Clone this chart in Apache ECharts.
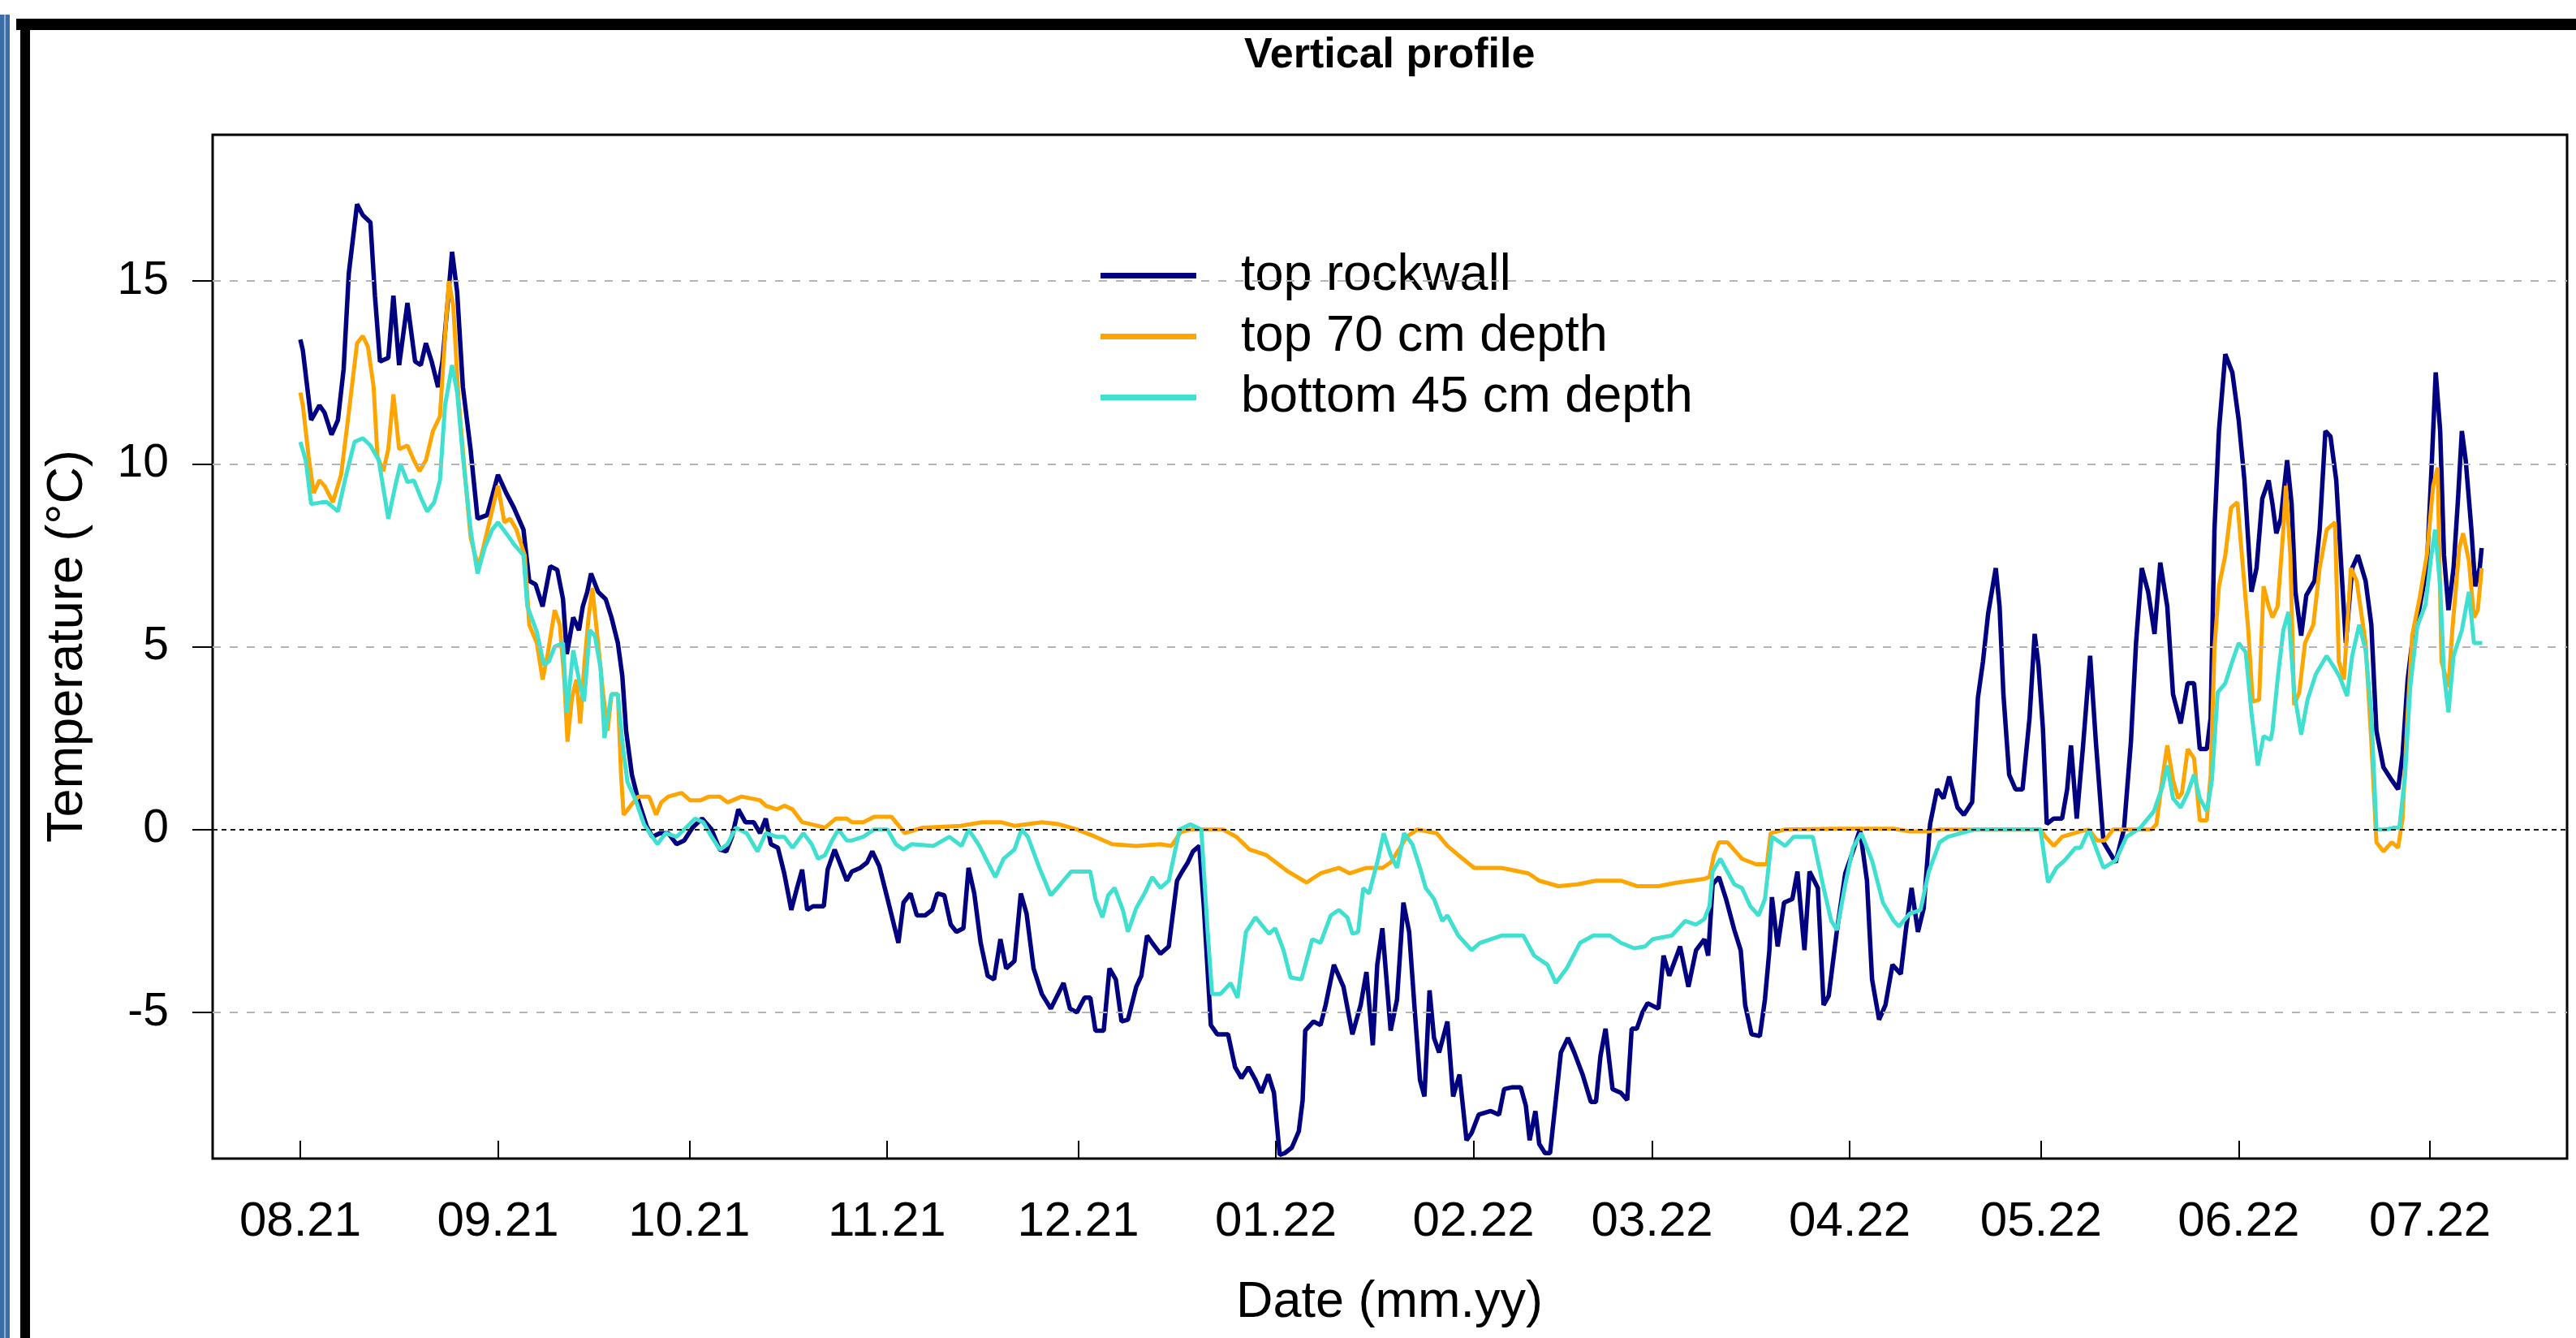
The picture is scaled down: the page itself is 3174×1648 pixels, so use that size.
<!DOCTYPE html>
<html>
<head>
<meta charset="utf-8">
<title>Vertical profile</title>
<script src="https://cdn.jsdelivr.net/npm/echarts@6/dist/echarts.min.js"></script>
<style>
	html, body { margin: 0; padding: 0; background: #fff; }
	#chart { width: 3174px; height: 1648px; }
</style>
</head>
<body>
<div id="chart"></div>
<script>
// x = days since 01.08.2021
var monthDays = [0, 31, 61, 92, 122, 153, 184, 212, 243, 273, 304, 334];
var monthLabels = ['08.21', '09.21', '10.21', '11.21', '12.21', '01.22', '02.22', '03.22', '04.22', '05.22', '06.22', '07.22'];
var tempTicks = [-5, 0, 5, 10, 15];

var rockwall = [
	[0,13.4],[0.4,13.1],[1.7,11.2],[3,11.6],[3.8,11.4],[4.9,10.8],[5.9,11.2],[6.8,12.6],[7.6,15.2],[8.9,17.1],
	[9.8,16.8],[11,16.6],[11.7,14.6],[12.5,12.8],[13.8,12.9],[14.6,14.6],[15.5,12.7],[16.8,14.4],[18,12.8],[18.9,12.7],
	[19.7,13.3],[20.6,12.8],[21.6,12.1],[22.3,12.8],[23.8,15.8],[24.6,14.7],[25.5,12.1],[26.7,10.4],[27.8,8.5],[29.3,8.6],
	[31,9.7],[32.3,9.2],[33.5,8.8],[35,8.2],[35.9,6.8],[36.9,6.7],[38,6.1],[39.2,7.2],[40.3,7.1],[41.2,6.3],[41.8,4.8],
	[42.1,5.1],[42.8,5.8],[43.7,5.45],[44.3,6.1],[45,6.5],[45.6,7.0],[46.7,6.5],[47.9,6.3],[48.8,5.8],[49.8,5.1],[50.5,4.2],
	[51.1,2.7],[52,1.5],[53,0.8],[54.3,0.1],[55.2,-0.2],[56.4,-0.1],[57.7,-0.1],[59,-0.4],[60.2,-0.3],[61.5,0.05],
	[63,0.3],[64.5,0],[65.8,-0.55],[66.8,-0.6],[67.7,-0.2],[68.7,0.55],[69.8,0.2],[71.1,0.2],[72.1,-0.1],[73,0.3],
	[73.8,-0.4],[74.9,-0.5],[75.9,-1.2],[77,-2.2],[77.9,-1.6],[78.7,-1.1],[79.5,-2.2],[80.4,-2.1],[81.5,-2.1],[82.1,-2.1],
	[82.7,-1.1],[83.8,-0.55],[85.7,-1.4],[86.5,-1.15],[87.8,-1.05],[88.9,-0.9],[89.7,-0.6],[90.8,-1.0],[92.1,-1.9],[93.8,-3.1],
	[94.6,-2.0],[95.7,-1.75],[96.7,-2.35],[98,-2.35],[99.1,-2.2],[99.9,-1.75],[101,-1.8],[102,-2.6],[102.9,-2.8],[104,-2.7],
	[104.8,-1.05],[105.7,-1.75],[106.7,-3.1],[107.8,-4.0],[108.8,-4.1],[109.8,-3.0],[110.7,-3.8],[112,-3.6],[113,-1.75],[113.9,-2.3],
	[115,-3.8],[116.3,-4.5],[117.7,-4.9],[119.7,-4.2],[120.7,-4.9],[121.8,-5.0],[123,-4.6],[123.9,-4.6],[124.7,-5.5],[126,-5.5],
	[126.9,-3.8],[127.9,-4.1],[128.8,-5.25],[129.8,-5.2],[131.1,-4.3],[131.9,-4.0],[132.8,-2.9],[133.6,-3.1],[134.9,-3.4],[136.2,-3.2],
	[137.5,-1.4],[138.3,-1.15],[139.2,-0.9],[140,-0.6],[141,-0.45],[141.7,-2.1],[142.8,-5.35],[143.8,-5.6],[145.5,-5.6],[146.6,-6.5],
	[147.6,-6.8],[148.7,-6.5],[149.8,-6.85],[150.7,-7.2],[151.8,-6.7],[152.7,-7.2],[153.6,-8.9],[154.4,-8.85],[155.5,-8.7],[156.6,-8.25],
	[157.2,-7.4],[157.6,-5.5],[158.9,-5.25],[160,-5.35],[160.8,-4.8],[162.1,-3.7],[163.6,-4.3],[165,-5.6],[166.3,-4.8],[167.2,-3.9],
	[168.2,-5.9],[168.9,-3.7],[169.7,-2.7],[171,-5.5],[172,-4.65],[173,-2.0],[173.9,-2.8],[174.8,-5.0],[175.6,-6.85],[176.3,-7.3],
	[177.1,-4.4],[177.8,-5.7],[178.6,-6.1],[179.9,-5.25],[180.8,-7.3],[181.8,-6.7],[182.9,-8.5],[183.7,-8.3],[184.8,-7.8],[186.7,-7.7],
	[188,-7.8],[188.8,-7.1],[190.1,-7.05],[191.4,-7.05],[192.2,-7.55],[192.8,-8.5],[193.7,-7.7],[194.3,-8.6],[195.2,-8.85],[196,-8.85],
	[196.9,-7.4],[197.7,-6.1],[198.8,-5.7],[199.8,-6.1],[201.1,-6.7],[202.4,-7.45],[203.2,-7.45],[203.9,-6.2],[204.7,-5.45],[205.8,-7.1],
	[207.1,-7.2],[208.1,-7.4],[208.8,-5.45],[209.6,-5.45],[210.5,-5.0],[211.3,-4.75],[213,-4.9],[213.8,-3.45],[214.7,-4.0],[216.4,-3.2],
	[217.7,-4.3],[218.9,-3.3],[220.2,-3.0],[220.8,-3.45],[221.5,-1.5],[222.5,-1.3],[223.6,-1.9],[224.9,-2.75],[225.9,-3.3],[226.6,-4.8],
	[227.6,-5.6],[228.9,-5.65],[229.7,-4.65],[230.4,-3.3],[230.8,-1.85],[231.7,-3.2],[232.7,-2.0],[234,-1.9],[234.8,-1.15],[235.9,-3.3],
	[236.7,-1.15],[238,-1.6],[238.9,-4.8],[239.7,-4.55],[241,-2.75],[242.3,-1.2],[243.5,-0.6],[244.6,0],[245.7,-1.4],[246.5,-4.1],
	[247.6,-5.2],[248.6,-4.8],[249.7,-3.7],[251,-3.95],[251.8,-2.75],[252.7,-1.6],[253.7,-2.8],[254.6,-2.15],[255.6,0.15],[256.7,1.1],
	[257.7,0.85],[258.6,1.45],[259.9,0.6],[260.9,0.4],[262.2,0.75],[262.6,2.0],[263.1,3.6],[263.9,4.6],[264.7,5.9],[265.9,7.15],
	[266.5,6.1],[267.1,3.7],[268,1.5],[269,1.1],[270.1,1.1],[271.2,3.05],[272,5.35],[272.6,4.5],[273.3,2.75],[273.9,0.15],
	[275,0.3],[276.3,0.3],[277.1,1.1],[277.7,2.3],[278.6,0.3],[279.6,2.3],[280.7,4.75],[281.6,2.4],[282.8,-0.35],[284.7,-0.9],
	[286,0],[287.1,2.4],[287.9,5.1],[288.8,7.15],[289.8,6.5],[290.8,5.35],[291.7,7.3],[292.8,6.1],[293.7,3.7],[294.9,2.9],
	[296,4.0],[297,4.0],[297.9,2.2],[299,2.2],[299.6,3.05],[300.2,8.2],[300.9,10.9],[301.9,13.0],[303,12.5],[304,11.2],
	[304.9,9.55],[306,6.5],[306.8,7.15],[307.7,9.05],[308.7,9.55],[309.3,8.9],[309.9,8.1],[310.6,8.5],[311.6,10.1],[312.3,8.9],
	[312.9,6.5],[313.8,5.3],[314.6,6.4],[315.9,6.8],[316.7,8.2],[317.6,10.9],[318.4,10.75],[319.3,9.55],[320.1,7.15],[320.8,5.1],
	[321.8,7.15],[322.7,7.5],[323.9,6.8],[324.8,5.6],[325.6,2.7],[326.7,1.7],[328,1.35],[329,1.1],[329.7,2.05],[330.5,4.1],
	[331.2,5.1],[332.4,6.1],[333.5,7.15],[334.3,10.1],[334.9,12.5],[335.6,10.9],[336.2,7.5],[336.9,6.0],[337.7,7.15],[338.4,9.05],
	[339,10.9],[339.6,10.1],[340.5,8.2],[341.1,6.65],[341.8,7.15],[342.1,7.7]
];

var depth70 = [
	[0,11.95],[0.4,11.6],[1.3,10.2],[2.1,9.2],[3,9.55],[3.8,9.4],[5.1,8.95],[6.4,9.7],[7.6,11.4],[8.9,13.3],
	[9.8,13.5],[10.6,13.2],[11.5,12.1],[12.1,10.2],[13,9.8],[13.8,10.4],[14.6,11.9],[15.5,10.4],[16.8,10.5],[17.8,10.1],
	[18.7,9.8],[19.7,10.1],[20.8,10.9],[21.9,11.3],[22.7,13.5],[23.3,15.0],[24,14.3],[24.8,11.8],[25.9,9.55],[26.7,8.0],
	[27.4,7.5],[28,7.2],[29.1,8.0],[31,9.4],[32,8.4],[32.9,8.5],[33.9,8.2],[35.2,7.5],[35.9,5.6],[37.1,5.1],
	[38,4.1],[38.8,4.8],[39.9,6.0],[40.7,5.6],[41.4,4.1],[41.9,2.4],[42.6,3.6],[43.3,4.1],[43.9,2.9],[44.5,4.4],
	[45.2,5.8],[45.8,6.6],[46.7,5.1],[47.5,3.7],[48.2,2.7],[48.8,3.7],[49.8,3.7],[50.3,1.5],[50.7,0.4],[51.8,0.65],
	[53,0.9],[54.7,0.9],[55.8,0.4],[56.6,0.74],[57.7,0.9],[59.8,1.0],[61.1,0.8],[62.8,0.8],[64.1,0.9],[65.8,0.9],
	[67,0.74],[69.2,0.9],[72.1,0.8],[73,0.65],[74.7,0.55],[75.9,0.65],[77.2,0.55],[78.7,0.2],[80.2,0.14],[82.3,0.05],
	[84,0.3],[85.7,0.3],[86.5,0.2],[88.3,0.2],[90,0.35],[92.7,0.35],[94.8,-0.1],[97.6,0.05],[103.5,0.1],[106.9,0.2],
	[109.9,0.2],[112,0.1],[116.3,0.2],[118.8,0.15],[121.8,0],[124.7,-0.2],[127.3,-0.4],[131.1,-0.45],[134.9,-0.4],[136.6,-0.45],
	[138.1,-0.07],[139.6,0],[144.7,0],[146.8,-0.2],[148.9,-0.55],[151.5,-0.7],[154.9,-1.15],[157.8,-1.45],[160,-1.2],[162.9,-1.05],
	[164.6,-1.2],[167.2,-1.05],[169.7,-1.05],[171,-0.9],[172.3,-0.55],[173.5,-0.2],[175.2,0],[178.2,-0.1],[179.9,-0.45],[181.6,-0.7],
	[184.1,-1.05],[188.4,-1.05],[192.6,-1.2],[194.3,-1.4],[197.3,-1.55],[200.3,-1.5],[203.2,-1.4],[207.1,-1.4],[209.6,-1.55],[213,-1.55],
	[216,-1.45],[218.1,-1.4],[220.2,-1.35],[221,-1.3],[221.7,-0.7],[222.5,-0.35],[223.8,-0.35],[226.1,-0.8],[228.3,-0.95],[230,-0.95],
	[230.6,-0.1],[232.9,0],[241.4,0.02],[249.9,0.02],[252.4,-0.05],[255.4,-0.05],[257.1,0],[264.7,0],[272.9,0],[273.7,-0.2],
	[275,-0.45],[276.3,-0.2],[279.2,-0.05],[280.5,0],[281.8,-0.3],[283,-0.3],[284.3,0],[290.3,0],[291.1,0.14],[292,1.35],
	[292.8,2.3],[293.7,1.35],[294.5,0.85],[295.1,1.0],[296,2.2],[297,1.95],[297.9,0.25],[299,0.25],[299.6,1.5],[300.2,4.95],
	[300.9,6.65],[301.9,7.5],[302.8,8.8],[303.8,8.95],[304.5,7.5],[305.5,5.45],[306.2,3.5],[307.2,3.55],[307.9,6.65],[308.7,6.1],
	[309.3,5.8],[310.1,6.1],[311,8.2],[311.4,9.4],[312.1,7.5],[312.7,3.4],[313.5,3.75],[314.4,5.1],[315.7,5.6],[316.7,7.15],
	[317.8,8.2],[319.1,8.4],[319.7,4.6],[320.5,4.1],[321.6,7.15],[322.5,6.8],[323.9,5.1],[324.8,2.4],[325.6,-0.35],[326.7,-0.6],
	[328,-0.35],[329,-0.5],[329.7,0.3],[330.5,3.2],[331.2,5.3],[332.4,6.35],[333.5,7.5],[334.5,9.4],[335.2,9.9],[335.8,4.6],
	[336.9,3.9],[337.5,5.45],[338.6,7.7],[339.2,8.1],[340.1,7.35],[340.9,5.8],[341.5,6.0],[342.1,7.15]
];

var depth45 = [
	[0,10.6],[0.85,10.1],[1.7,8.9],[3.4,8.95],[4.2,8.95],[5.9,8.7],[7.2,9.7],[8.5,10.6],[9.8,10.7],[11,10.5],
	[12.3,10.1],[13.8,8.5],[14.9,9.4],[15.7,10.0],[16.8,9.5],[17.8,9.55],[19.1,9.0],[19.9,8.7],[21,8.95],[21.9,9.55],
	[22.7,11.6],[23.8,12.7],[24.6,11.95],[25.5,10.2],[26.7,8.2],[27.8,7.0],[28.9,7.7],[30.1,8.2],[31,8.4],[32.3,8.1],
	[33.5,7.8],[35,7.5],[35.6,6.1],[37.1,5.4],[38.2,4.5],[39,4.6],[39.9,5.0],[41.2,5.1],[41.8,3.2],[42.1,3.7],
	[42.8,4.9],[43.7,4.1],[44.5,3.5],[45.4,5.45],[46.2,5.3],[47.1,4.4],[47.7,2.5],[48.8,3.7],[49.8,3.7],[50.5,2.4],
	[51.3,1.3],[52.6,0.8],[53.9,0.14],[55.2,-0.2],[56,-0.4],[57.3,-0.1],[59,-0.2],[60.2,0],[61.9,0.3],[63.2,0.2],
	[64.5,-0.2],[65.8,-0.55],[67,-0.4],[68.3,0.05],[70,-0.1],[71.7,-0.6],[73,-0.1],[74.7,-0.2],[75.9,-0.2],[77.2,-0.5],
	[78.9,-0.1],[80.2,-0.4],[81.2,-0.8],[82.3,-0.7],[83.4,-0.3],[84.4,0],[85.7,-0.3],[86.5,-0.3],[88.3,-0.2],[90,0],
	[92.1,0],[93.4,-0.4],[94.6,-0.55],[95.9,-0.4],[99.3,-0.45],[101.8,-0.2],[103.7,-0.45],[104.8,0],[106.5,-0.45],[107.8,-0.9],
	[109,-1.3],[110.3,-0.8],[112,-0.55],[113.1,0],[114.1,-0.2],[115.8,-1.0],[117.7,-1.8],[119.2,-1.5],[120.9,-1.15],[122.6,-1.15],
	[123.9,-1.15],[124.7,-1.9],[125.8,-2.4],[126.7,-1.8],[127.7,-1.6],[129,-2.2],[129.8,-2.8],[131.1,-2.15],[132.4,-1.75],[133.6,-1.3],
	[134.9,-1.6],[136.2,-1.4],[137.9,0],[139.6,0.14],[141.3,0],[142.3,-2.8],[143,-4.5],[144.3,-4.5],[145.9,-4.2],[147,-4.6],
	[148.3,-2.8],[149.8,-2.4],[151.9,-2.85],[152.9,-2.7],[154.2,-3.3],[155.3,-4.05],[157,-4.1],[158.7,-3.0],[160,-3.1],[161.6,-2.35],
	[162.9,-2.2],[164.2,-2.4],[165,-2.85],[165.9,-2.8],[166.7,-1.6],[167.6,-1.75],[168.9,-0.9],[169.9,-0.1],[171,-0.7],[172,-1.05],
	[173.1,-0.1],[174.4,-0.4],[175.6,-1.05],[176.5,-1.6],[177.8,-1.9],[179.1,-2.5],[179.9,-2.35],[181.6,-2.9],[183.7,-3.3],[185,-3.1],
	[188.4,-2.9],[191.8,-2.9],[193.5,-3.45],[195.6,-3.7],[196.9,-4.2],[198.6,-3.8],[200.7,-3.1],[202.8,-2.9],[205.4,-2.9],[207.1,-3.1],
	[209.2,-3.25],[210.9,-3.2],[212.1,-3.0],[215.1,-2.9],[217.2,-2.5],[218.9,-2.6],[220.2,-2.45],[221,-2.1],[221.5,-1.15],[222.7,-0.8],
	[224.9,-1.5],[226.1,-1.6],[227.4,-2.1],[228.7,-2.35],[229.7,-1.9],[230.8,-0.2],[232.9,-0.45],[234.2,-0.2],[237.2,-0.2],[238.9,-1.6],
	[240.1,-2.5],[241,-2.75],[242.3,-1.5],[243.5,-0.5],[244.8,-0.1],[246.5,-0.85],[248.2,-2.0],[249.9,-2.5],[250.7,-2.65],[252.4,-2.3],
	[254.1,-2.2],[255.4,-1.15],[257.1,-0.35],[258.4,-0.2],[262.6,0],[264.7,0],[272.9,0],[274.1,-1.45],[275.4,-1.05],[276.7,-0.85],
	[278.4,-0.5],[279.2,-0.5],[280.5,0],[281.6,-0.5],[282.8,-1.05],[284.7,-0.85],[286.4,-0.2],[288.6,0.05],[290.7,0.5],[292,1.15],
	[292.8,1.75],[293.7,0.85],[294.9,0.6],[296,1.0],[297,1.5],[297.9,0.85],[299,0.5],[299.8,1.35],[300.7,3.75],[301.9,4.0],
	[303,4.6],[304,5.1],[305.1,4.85],[306,3.2],[307,1.75],[307.9,2.55],[309,2.45],[309.3,2.7],[310.1,4.1],[311,5.45],
	[311.8,5.95],[312.7,3.75],[313.8,2.6],[314.8,3.55],[316.1,4.25],[317.8,4.75],[319.1,4.4],[319.9,4.15],[321,3.65],[321.8,4.75],
	[322.9,5.6],[323.9,4.9],[324.8,3.2],[325.6,0],[327.1,0],[328.4,0.05],[329.2,0.05],[330.1,1.5],[330.9,3.9],[332,5.55],
	[333.3,6.15],[334.1,7.35],[334.8,8.2],[335.6,6.65],[336.2,4.25],[336.9,3.2],[337.7,4.75],[339,5.45],[340.1,6.5],[340.9,5.1],
	[342.2,5.1]
];

var FONT = '"Liberation Sans", Arial, sans-serif';

function showProfileChart(id) {
	var profileChart = echarts.init(document.getElementById(id));
	var gridLine = { color : '#b4b4b4', width : 2, type : [10, 11] };
	var profileOption = {
		animation : false,
		backgroundColor : '#fff',
		title : {
			text : 'Vertical profile',
			left : 1528,
			top : 38,
			textStyle : {
				color : '#000',
				fontSize : 52,
				fontWeight : 'bold',
				fontFamily : FONT
			}
		},
		legend : {
			data : [ 'top rockwall', 'top 70 cm depth', 'bottom 45 cm depth' ],
			orient : 'vertical',
			left : 1296,
			top : 300,
			padding : [ 8, 58, 8, 60 ],
			backgroundColor : '#fff',
			icon : 'rect',
			itemWidth : 118,
			itemHeight : 7,
			itemGap : 12,
			textStyle : {
				color : '#000',
				fontSize : 63,
				lineHeight : 63,
				fontFamily : FONT,
				padding : [ 0, 0, 0, 50 ]
			}
		},
		grid : {
			left : 262,
			top : 166,
			width : 2901,
			height : 1261,
			show : true,
			borderColor : '#000',
			borderWidth : 3
		},
		xAxis : {
			type : 'value',
			min : -13.75,
			max : 355.5,
			axisLine : { show : false, onZero : false },
			splitLine : { show : false },
			axisTick : {
				show : true,
				inside : true,
				length : 22,
				customValues : monthDays,
				lineStyle : { color : '#000', width : 2 }
			},
			axisLabel : {
				customValues : monthDays,
				margin : 48,
				color : '#000',
				fontSize : 60,
				fontFamily : FONT,
				formatter : function (v) {
					var i = monthDays.indexOf(v);
					return i < 0 ? '' : monthLabels[i];
				}
			}
		},
		yAxis : {
			type : 'value',
			min : -9,
			max : 19,
			axisLine : { show : false, onZero : false },
			splitLine : { show : false },
			axisTick : {
				show : true,
				length : 25,
				customValues : tempTicks,
				lineStyle : { color : '#000', width : 2 }
			},
			axisLabel : {
				customValues : tempTicks,
				margin : 54,
				color : '#000',
				fontSize : 57,
				fontFamily : FONT
			}
		},
		graphic : [
			{ type : 'rect', shape : { x : 0, y : 18, width : 12, height : 1630 }, style : { fill : '#3a6ea5' } },
			{ type : 'rect', shape : { x : 5, y : 18, width : 2, height : 1630 }, style : { fill : '#8fb0d2' } },
			{ type : 'rect', shape : { x : 20, y : 23, width : 3154, height : 14 }, style : { fill : '#000' } },
			{ type : 'rect', shape : { x : 25, y : 23, width : 12, height : 1625 }, style : { fill : '#000' } },
			{
				type : 'text', x : 1712, y : 1605,
				style : { text : 'Date (mm.yy)', fill : '#000', font : '63px ' + FONT, align : 'center', verticalAlign : 'middle' }
			},
			{
				type : 'text', x : 84, y : 796, rotation : Math.PI / 2,
				style : { text : 'Temperature (°C)', fill : '#000', font : '63px ' + FONT, align : 'center', verticalAlign : 'middle' }
			}
		],
		series : [ {
			// reference lines only
			name : 'grid',
			type : 'line',
			data : [],
			silent : true,
			markLine : {
				silent : true,
				symbol : [ 'none', 'none' ],
				label : { show : false },
				animation : false,
				data : [
					{ yAxis : 15, lineStyle : gridLine },
					{ yAxis : 10, lineStyle : gridLine },
					{ yAxis : 5, lineStyle : gridLine },
					{ yAxis : -5, lineStyle : gridLine },
					{ yAxis : 0, lineStyle : { color : '#1a1a1a', width : 2, type : [6, 5] } }
				]
			}
		}, {
			name : 'top rockwall',
			type : 'line',
			data : rockwall,
			symbol : 'none',
			color : '#000080',
			lineStyle : { color : '#000080', width : 5.5 }
		}, {
			name : 'top 70 cm depth',
			type : 'line',
			data : depth70,
			symbol : 'none',
			color : '#ffa500',
			lineStyle : { color : '#ffa500', width : 5 }
		}, {
			name : 'bottom 45 cm depth',
			type : 'line',
			data : depth45,
			symbol : 'none',
			color : '#40e0d0',
			lineStyle : { color : '#40e0d0', width : 5 }
		} ]
	};
	profileChart.setOption(profileOption);
}

showProfileChart('chart');
</script>
</body>
</html>
